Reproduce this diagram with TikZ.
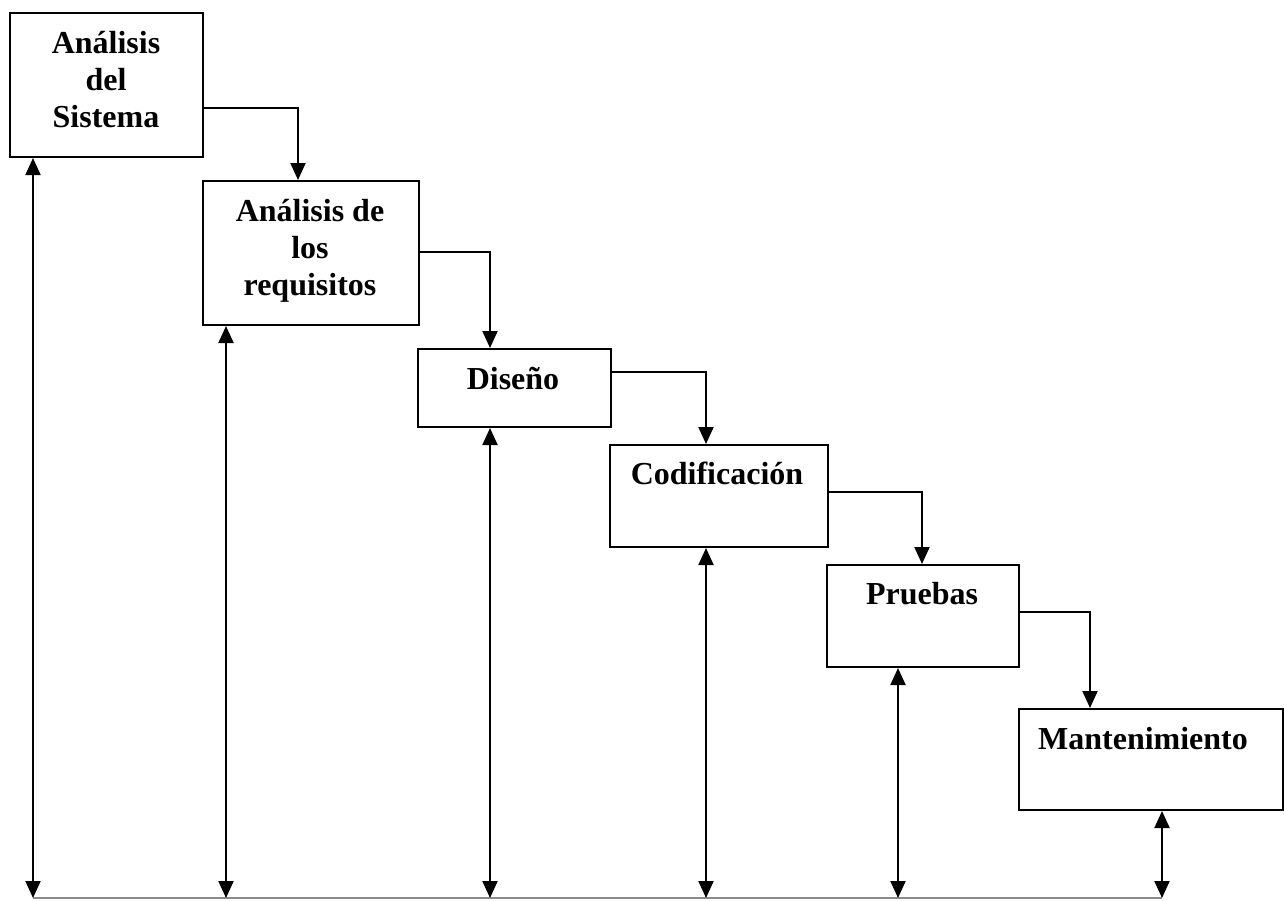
\documentclass[tikz,border=0pt]{standalone}
\usepackage{fontspec}
\setmainfont{Liberation Serif}
\usetikzlibrary{arrows.meta}
\begin{document}
\begin{tikzpicture}[x=1pt,y=-1pt,
  box/.style={draw, line width=2pt, inner sep=0pt, anchor=north west},
  lbl/.style={anchor=base, inner sep=0pt, align=center, font=\fontsize{32pt}{37pt}\selectfont\bfseries},
  conn/.style={line width=2pt, -{Triangle[width=15pt,length=17pt]}},
  dbl/.style={line width=2pt, {Triangle[width=15pt,length=17pt]}-{Triangle[width=15pt,length=17pt]}},
  baseline/.style={draw=black!45, line width=1.3pt}]
\useasboundingbox (0,0) rectangle (1284,900);
% boxes
\node[box, minimum width=193pt, minimum height=144pt] (b1) at (9,12) {};
\node[box, minimum width=216pt, minimum height=144pt] (b2) at (202,180) {};
\node[box, minimum width=193pt, minimum height=78pt]  (b3) at (417,348) {};
\node[box, minimum width=218pt, minimum height=102pt] (b4) at (609,444) {};
\node[box, minimum width=192pt, minimum height=102pt] (b5) at (826,564) {};
\node[box, minimum width=264pt, minimum height=101pt] (b6) at (1018,708) {};
% labels (base anchor = baseline of the last line)
\node[lbl] (t1) at (106,127) {Análisis\\del\\Sistema};
\node[lbl] (t2) at (310,295) {Análisis de\\los\\requisitos};
\node[lbl] (t3) at (513,389) {Diseño};
\node[lbl] (t4) at (717,484) {Codificación};
\node[lbl] (t5) at (922,604) {Pruebas};
\node[lbl] (t6) at (1143,749) {Mantenimiento};
% step connectors
\coordinate (k1) at (298,108);
\coordinate (k2) at (490,252);
\coordinate (k3) at (706,372);
\coordinate (k4) at (922,492);
\coordinate (k5) at (1090,612);
\draw[conn] (b1.east |- k1) -- (k1) -- (b2.north -| k1);
\draw[conn] (b2.east |- k2) -- (k2) -- (b3.north -| k2);
\draw[conn] (b3.east |- k3) -- (k3) -- (b4.north -| k3);
\draw[conn] (b4.east |- k4) -- (k4) -- (b5.north -| k4);
\draw[conn] (b5.east |- k5) -- (k5) -- (b6.north -| k5);
% feedback arrows
\coordinate (g1) at (33,898);
\coordinate (g2) at (226,898);
\coordinate (g3) at (490,898);
\coordinate (g4) at (706,898);
\coordinate (g5) at (898,898);
\coordinate (g6) at (1162,898);
\draw[baseline] (g1) -- (g6);
\draw[dbl] (b1.south -| g1) -- (g1);
\draw[dbl] (b2.south -| g2) -- (g2);
\draw[dbl] (b3.south -| g3) -- (g3);
\draw[dbl] (b4.south -| g4) -- (g4);
\draw[dbl] (b5.south -| g5) -- (g5);
\draw[dbl] (b6.south -| g6) -- (g6);
\end{tikzpicture}
\end{document}
